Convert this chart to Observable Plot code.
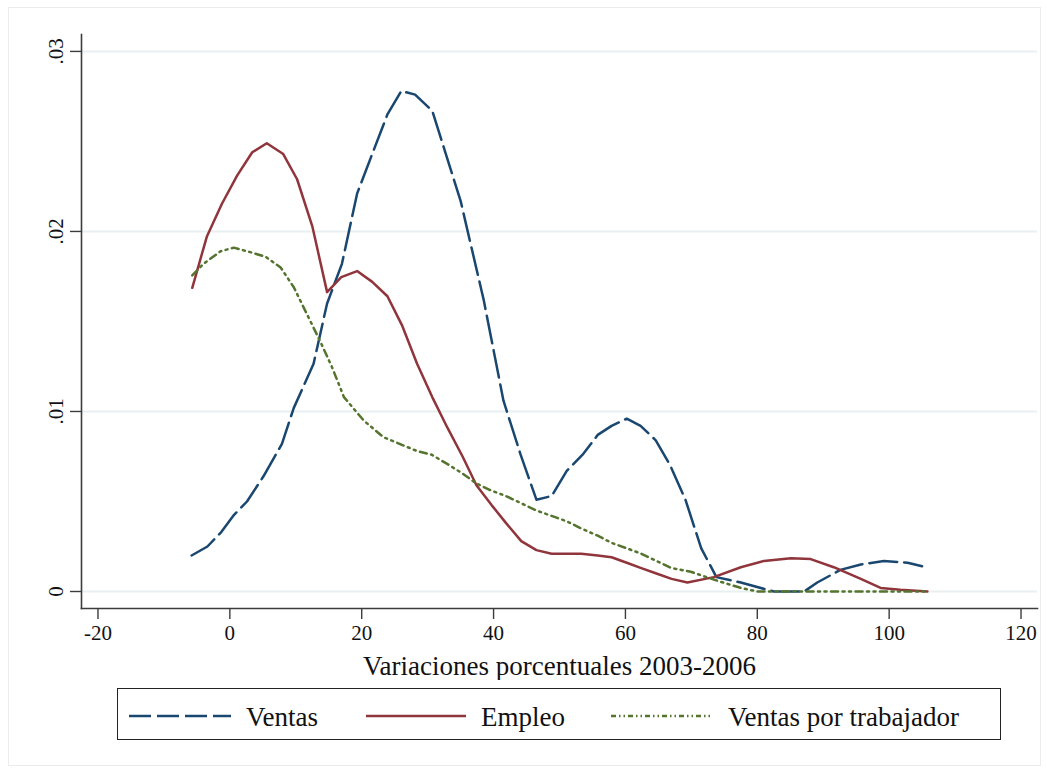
<!DOCTYPE html>
<html>
<head>
<meta charset="utf-8">
<script src="https://cdn.jsdelivr.net/npm/d3@7"></script>
<script src="https://cdn.jsdelivr.net/npm/@observablehq/plot@0.6"></script>
<style>
  html, body { margin: 0; padding: 0; background: #fff; }
  #wrap { position: relative; width: 1047px; height: 772px; font-family: "Liberation Serif", "Times New Roman", serif; }
  #border { position: absolute; left: 8px; top: 7px; width: 1031px; height: 757px; border: 1px solid #ececec; }
  #chart { position: absolute; left: 0; top: 0; }
  #legend { position: absolute; left: 117px; top: 688px; width: 882px; height: 50px; border: 1px solid #222; }
</style>
</head>
<body>
<div id="wrap">
  <div id="border"></div>
  <div id="chart"></div>
  <div id="legend"></div>
</div>
<script>
// ---- data ----
const seriesNames = ["Ventas", "Empleo", "Ventas por trabajador"];
const seriesColors = ["#1a476f", "#90353b", "#55752f"];
const seriesDashes = ["28,7", null, "7,4.5,2,4.5,2,4.5"];
const legendDashes = ["22,6", null, "5,3,1.5,3,1.5,3"];

const ventasX = [-5.8,-3.4,-1.3,0.5,2.6,5.1,7.9,9.7,12.7,14.75,17.0,19.3,21.8,23.9,26.0,28.1,30.7,35.0,38.5,41.5,44.1,46.5,48.8,51.1,53.5,55.8,57.9,60.2,62.3,64.6,66.8,69.1,71.5,73.8,77.5,82.5,87.1,89.1,92.6,95.7,99.2,102.8,105.0];
const ventasY = [.0020,.0025,.0033,.0042,.0050,.0064,.0082,.0102,.01265,.0160,.0182,.0221,.0245,.0265,.0278,.0276,.0267,.0217,.0162,.0106,.0076,.0051,.0053,.0067,.0076,.0087,.0092,.0096,.0092,.0084,.0070,.0051,.0024,.0008,.0005,.0000,.0000,.0005,.0012,.0015,.0017,.0016,.0014];

const empleoX = [-5.7,-3.5,-1.2,1.1,3.4,5.6,8.1,10.2,12.5,14.75,16.9,19.3,21.6,23.9,26.1,28.4,30.7,33.0,35.3,37.4,39.7,41.9,44.2,46.5,48.8,51.1,53.3,55.8,57.9,60.2,62.4,64.7,67.0,69.4,73.4,77.5,81.0,85.1,88.1,91.6,95.7,98.7,101.7,105.8];
const empleoY = [.01687,.0197,.02154,.0231,.0244,.0249,.0243,.0229,.0203,.01663,.01746,.0178,.0172,.0164,.0148,.01265,.0108,.0091,.0075,.0059,.0048,.0038,.0028,.0023,.0021,.0021,.0021,.0020,.0019,.0016,.0013,.0010,.0007,.0005,.0008,.00135,.0017,.00185,.0018,.00135,.0007,.0002,.0001,.0000];

const vptX = [-5.7,-4.0,-1.4,0.6,3.1,5.4,7.7,9.7,11.7,13.7,15.5,17.3,20.3,23.3,28.4,30.6,32.9,35.1,37.4,39.7,41.9,44.2,46.5,48.8,51.1,53.3,55.8,57.9,60.2,62.4,64.7,67.0,69.9,73.9,77.5,80.0,85.0,90.0,95.0,100.0,105.8];
const vptY = [.01756,.0182,.0189,.0191,.01885,.0186,.0180,.0169,.0154,.0139,.01246,.0108,.0095,.00857,.0078,.0076,.0071,.0066,.0060,.0056,.0053,.0049,.0045,.0042,.0039,.0035,.0031,.0027,.0024,.0021,.0017,.0013,.0011,.0006,.0002,.0000,.0000,.0000,.0000,.0000,.0000];

const xTicks = [-20, 0, 20, 40, 60, 80, 100, 120];
const yTicks = [0, 0.01, 0.02, 0.03];
const yTickLabels = ["0", ".01", ".02", ".03"];
const xLabel = "Variaciones porcentuales 2003-2006";

// ---- build tables ----
const xs = [ventasX, empleoX, vptX];
const ys = [ventasY, empleoY, vptY];
const tables = seriesNames.map((name, i) => xs[i].map((x, j) => ({serie: name, x, y: ys[i][j]})));

const font = '"Liberation Serif", "Times New Roman", serif';
const axisColor = "#3c3c3c";

const chart = Plot.plot({
  width: 1047,
  height: 680,
  marginLeft: 81,
  marginRight: 10,
  marginTop: 34,
  marginBottom: 72,
  x: {domain: [-22.5, 122.5]},
  y: {domain: [-0.000944, 0.03094]},
  style: {fontFamily: font, fontSize: "21px", background: "transparent", color: "#111"},
  marks: [
    Plot.gridY(yTicks, {stroke: "#e8f0f2", strokeOpacity: 1, strokeWidth: 2}),
    Plot.frame({anchor: "left", stroke: axisColor, strokeWidth: 1.6}),
    Plot.frame({anchor: "bottom", stroke: axisColor, strokeWidth: 1.6}),
    Plot.axisY(yTicks, {
      tickSize: 11, tickRotate: -90, tickPadding: 8, stroke: axisColor, strokeWidth: 1.4,
      tickFormat: (d) => yTickLabels[yTicks.indexOf(d)], label: null, fill: "#111",
      fontSize: 21, fontFamily: font
    }),
    Plot.axisX(xTicks, {
      tickSize: 11, tickPadding: 6, stroke: axisColor, strokeWidth: 1.4, label: null, fill: "#111",
      tickFormat: (d) => String(d), fontSize: 21, fontFamily: font
    }),
    Plot.text([xLabel], {frameAnchor: "bottom", dy: 66, lineAnchor: "bottom", fontSize: 27, fill: "#111", fontFamily: font}),
    ...tables.map((t, i) => Plot.line(t, {
      x: "x", y: "y", stroke: seriesColors[i], strokeWidth: 2.5,
      strokeDasharray: seriesDashes[i] || undefined, strokeLinejoin: "round"
    }))
  ]
});
document.getElementById("chart").appendChild(chart);

// ---- legend ----
const legendItems = [
  {sample: [11, 113], text: 128},
  {sample: [248, 348], text: 363},
  {sample: [493, 595], text: 610}
];
const lsvg = d3.select("#legend").append("svg").attr("width", 882).attr("height", 50)
  .style("display", "block");
seriesNames.forEach((name, i) => {
  const it = legendItems[i];
  lsvg.append("line")
    .attr("x1", it.sample[0]).attr("x2", it.sample[1])
    .attr("y1", 27).attr("y2", 27)
    .attr("stroke", seriesColors[i]).attr("stroke-width", 2.5)
    .attr("stroke-dasharray", legendDashes[i]);
  lsvg.append("text")
    .attr("x", it.text).attr("y", 37)
    .attr("font-family", font).attr("font-size", 27).attr("fill", "#111")
    .text(name);
});
</script>
</body>
</html>
